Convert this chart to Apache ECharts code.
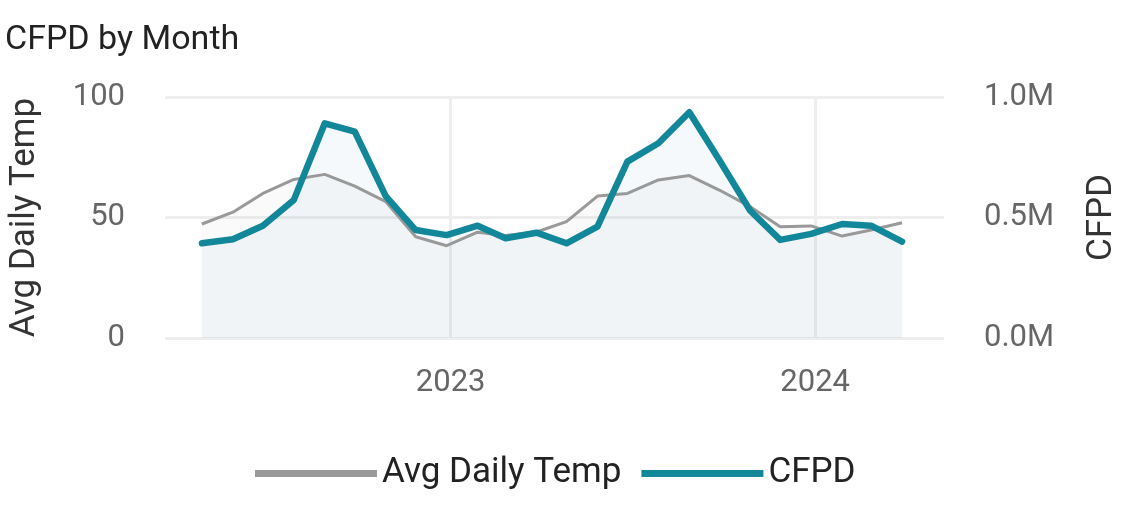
<!DOCTYPE html>
<html>
<head>
<meta charset="utf-8">
<script src="https://cdn.jsdelivr.net/npm/echarts@6/dist/echarts.min.js"></script>
<style>
  html, body { margin: 0; padding: 0; background: #fff; }
  #chart { width: 1128px; height: 514px; }
</style>
</head>
<body>
<div id="chart"></div>
<script>
// one reading per month, May 2022 .. Apr 2024 (stamped late in prior month)
var months = ['2022-04-27', '2022-05-28', '2022-06-27', '2022-07-28', '2022-08-28', '2022-09-27',
  '2022-10-28', '2022-11-27', '2022-12-28', '2023-01-28', '2023-02-25', '2023-03-28',
  '2023-04-27', '2023-05-28', '2023-06-27', '2023-07-28', '2023-08-28', '2023-09-27',
  '2023-10-28', '2023-11-27', '2023-12-28', '2024-01-28', '2024-02-26', '2024-03-28']
var avgTemp = [47.3, 52.2, 60.0, 65.8, 67.9, 63.0, 56.6, 42.0, 38.3, 43.9, 42.5, 44.0,
  48.3, 58.9, 60.0, 65.6, 67.4, 61.4, 54.5, 46.2, 46.5, 42.3, 44.8, 47.8]
var cfpd = [393000, 410000, 466000, 573000, 891000, 856000, 589000, 448000, 427000, 466000, 414000, 437000,
  393000, 462000, 732000, 808000, 937000, 739000, 528000, 407000, 432000, 473000, 466000, 400000]
var axisMin = '2022-03-21'
var axisMax = '2024-05-09'

var font = 'Roboto'
var chart = echarts.init(document.getElementById('chart'))

function pairs(vals) {
  var out = []
  for (var i = 0; i < months.length; i++) {
    out.push([months[i], vals[i]])
  }
  return out
}

chart.setOption({
  animation: false,
  textStyle: { fontFamily: font },
  title: {
    text: 'CFPD by Month',
    left: 0,
    top: 18,
    textStyle: { fontFamily: font, fontWeight: 'normal', fontSize: 34, color: '#222' }
  },
  legend: {
    left: 250,
    top: 451,
    itemWidth: 122,
    itemHeight: 7,
    itemGap: 20,
    icon: 'rect',
    textStyle: { fontFamily: font, fontSize: 35, color: '#222' },
    data: ['Avg Daily Temp', 'CFPD']
  },
  grid: { left: 160, right: 183, top: 97, bottom: 176 },
  xAxis: {
    type: 'time',
    min: axisMin,
    max: axisMax,
    minInterval: 365 * 24 * 3600 * 1000,
    axisLine: { show: false },
    axisTick: { show: false },
    axisLabel: {
      formatter: '{yyyy}',
      showMinLabel: false,
      showMaxLabel: false,
      margin: 30,
      fontSize: 31,
      color: '#666'
    },
    splitLine: {
      show: true,
      showMinLine: false,
      showMaxLine: false,
      lineStyle: { color: '#eee', width: 3 }
    }
  },
  yAxis: [{
    type: 'value',
    min: 0,
    max: 100,
    interval: 50,
    name: 'Avg Daily Temp',
    nameLocation: 'middle',
    nameGap: 122,
    nameTextStyle: { fontFamily: font, fontSize: 35, color: '#333' },
    axisLine: { show: false },
    axisTick: { show: false },
    axisLabel: { margin: 40, fontSize: 31, color: '#666' },
    splitLine: { lineStyle: { color: '#eee', width: 3 } }
  }, {
    type: 'value',
    min: 0,
    max: 1000000,
    interval: 500000,
    name: 'CFPD',
    nameLocation: 'middle',
    nameGap: 141,
    nameTextStyle: { fontFamily: font, fontSize: 35, color: '#333' },
    axisLine: { show: false },
    axisTick: { show: false },
    axisLabel: {
      margin: 40,
      fontSize: 31,
      color: '#666',
      formatter: function (v) { return (v / 1000000).toFixed(1) + 'M' }
    },
    splitLine: { show: false }
  }],
  series: [{
    name: 'Avg Daily Temp',
    type: 'line',
    yAxisIndex: 0,
    showSymbol: false,
    symbol: 'none',
    color: '#999',
    lineStyle: { width: 3, color: '#999' },
    areaStyle: { color: 'rgba(150,150,150,0.065)' },
    data: pairs(avgTemp)
  }, {
    name: 'CFPD',
    type: 'line',
    yAxisIndex: 1,
    showSymbol: false,
    symbol: 'none',
    color: '#13879a',
    lineStyle: { width: 6.5, color: '#13879a', cap: 'round', join: 'round' },
    areaStyle: { color: 'rgba(70,140,180,0.07)' },
    data: pairs(cfpd)
  }]
})
</script>
</body>
</html>
